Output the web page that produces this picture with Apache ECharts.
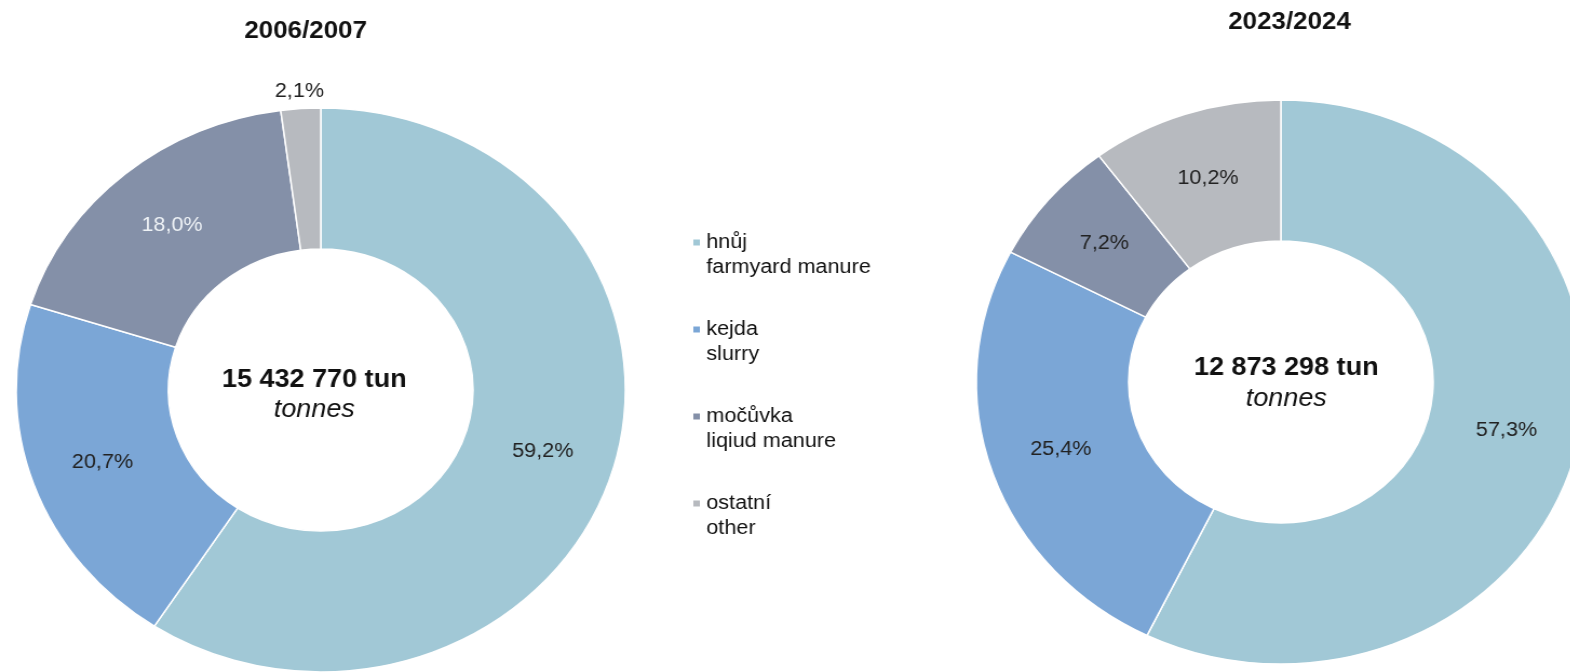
<!DOCTYPE html>
<html>
<head>
<meta charset="utf-8">
<script src="https://cdn.jsdelivr.net/npm/echarts@6/dist/echarts.min.js"></script>
<style>
  html, body { margin: 0; padding: 0; background: #fff; overflow: hidden; }
  /* the source picture is stretched sideways, so the chart is too */
  #chart { width: 1454px; height: 672px; transform: scaleX(1.08); transform-origin: 0 0; }
</style>
</head>
<body>
<div id="chart"></div>
<script>
// categories
const names = ['hnůj', 'kejda', 'močůvka', 'ostatní'];
const namesEn = ['farmyard manure', 'slurry', 'liqiud manure', 'other'];
const colors = ['#A1C8D6', '#7BA6D6', '#8490A8', '#B7BABF'];

// shares in %
const years = ['2006/2007', '2023/2024'];
const share2006 = [59.2, 20.7, 18.0, 2.1];
const share2023 = [57.3, 25.4, 7.2, 10.2];
const totals = ['15 432 770 tun', '12 873 298 tun'];

const centerL = [297, 390];
const centerR = [1186, 382];
const font = '"Liberation Sans", Arial, sans-serif';

const fmt = p => p.value.toFixed(1).replace('.', ',') + '%';

// label colour per slice (the 18,0% one is light)
const toData = (vals, lightIdx, hideIdx) => vals.map((v, i) => ({
  name: names[i],
  value: v,
  label: {
    show: i !== hideIdx,
    color: i === lightIdx ? '#EEF2F6' : '#222'
  }
}));

const option = {
  animation: false,
  color: colors,
  textStyle: { fontFamily: font },
  title: [
    {
      text: years[0], left: 283, top: 19, textAlign: 'center', padding: 0,
      textStyle: { fontSize: 24, fontWeight: 'bold', color: '#111', fontFamily: font }
    },
    {
      text: years[1], left: 1194, top: 10, textAlign: 'center', padding: 0,
      textStyle: { fontSize: 24, fontWeight: 'bold', color: '#111', fontFamily: font }
    },
    {
      text: totals[0], subtext: 'tonnes', left: 291, top: 368, textAlign: 'center', padding: 0, itemGap: 5,
      textStyle: { fontSize: 25, fontWeight: 'bold', color: '#111', fontFamily: font },
      subtextStyle: { fontSize: 25, fontStyle: 'italic', color: '#111', fontFamily: font }
    },
    {
      text: totals[1], subtext: 'tonnes', left: 1191, top: 356, textAlign: 'center', padding: 0, itemGap: 6,
      textStyle: { fontSize: 25, fontWeight: 'bold', color: '#111', fontFamily: font },
      subtextStyle: { fontSize: 25, fontStyle: 'italic', color: '#111', fontFamily: font }
    }
  ],
  legend: {
    data: names,
    orient: 'vertical',
    left: 640,
    top: 205,
    padding: 0,
    icon: 'rect',
    itemWidth: 8,
    itemHeight: 8,
    itemGap: 12,
    selectedMode: false,
    // empty first line so the marker sits next to the Czech name
    formatter: name => '\n' + name + '\n' + namesEn[names.indexOf(name)],
    textStyle: {
      fontSize: 20, lineHeight: 25, color: '#111', fontFamily: font
    }
  },
  series: [
    {
      name: years[0],
      type: 'pie',
      center: centerL,
      radius: [141, 282],
      startAngle: 90,
      itemStyle: { borderColor: '#fff', borderWidth: 1.5 },
      label: { position: 'inside', formatter: fmt, fontSize: 20, fontFamily: font },
      labelLine: { show: false },
      emphasis: { disabled: true },
      data: toData(share2006, 2, 3)
    },
    {
      // empty ring just outside, only to carry the small 2,1% label
      name: years[0] + ' outer',
      type: 'pie',
      center: centerL,
      radius: [282, 310],
      startAngle: 90,
      silent: true,
      itemStyle: { color: 'rgba(0,0,0,0)', borderWidth: 0 },
      label: { position: 'inside', formatter: fmt, fontSize: 20, fontFamily: font, color: '#222' },
      labelLine: { show: false },
      emphasis: { disabled: true },
      data: share2006.map((v, i) => ({ name: names[i], value: v, label: { show: i === 3 } }))
    },
    {
      name: years[1],
      type: 'pie',
      center: centerR,
      radius: [141, 282],
      startAngle: 90,
      itemStyle: { borderColor: '#fff', borderWidth: 1.5 },
      label: { position: 'inside', formatter: fmt, fontSize: 20, fontFamily: font },
      labelLine: { show: false },
      emphasis: { disabled: true },
      data: toData(share2023, -1, -1)
    }
  ]
};

const myChart = echarts.init(document.getElementById('chart'));
myChart.setOption(option);
</script>
</body>
</html>
